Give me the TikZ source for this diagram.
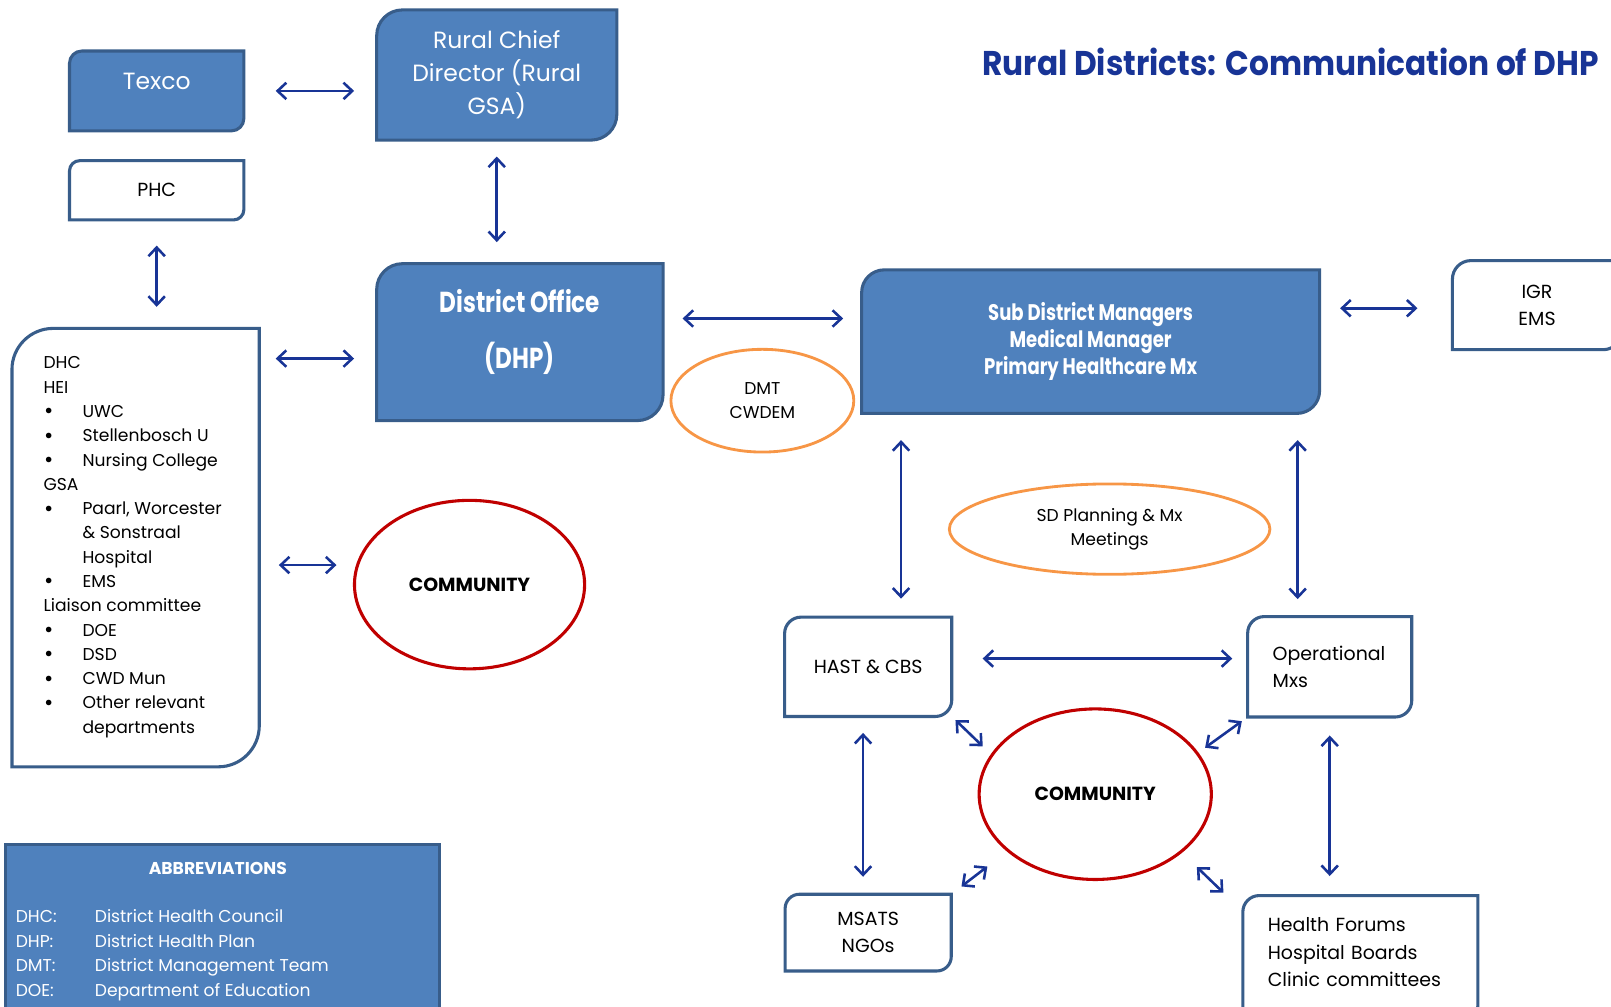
\documentclass[tikz,border=0pt]{standalone}
\usepackage{fontspec}
\setmainfont{Poppins}
\newfontfamily\narrowfont[FakeStretch=0.8]{Poppins}
\newfontfamily\titlefont[FakeStretch=0.91]{Poppins}
\usetikzlibrary{shapes.geometric,arrows.meta,backgrounds,positioning}

\definecolor{boxblue}{HTML}{4F81BD}
\definecolor{boxedge}{HTML}{385D8A}
\definecolor{linkblue}{RGB}{24,52,150}
\definecolor{commred}{HTML}{C00000}
\definecolor{meetorange}{HTML}{F79646}

\newcommand{\hitem}[1]{\makebox[7.6mm][l]{\hspace{0.1mm}\raisebox{-0.15ex}{\fontsize{12.5}{0}\selectfont\textbullet}}#1}
\newcommand{\hmore}[1]{\hspace*{7.6mm}#1}

\begin{document}
\begin{tikzpicture}[x=0.2mm, y=-0.2mm,
  >={Straight Barb[length=1.7mm,width=3.2mm]},
  block/.style={inner sep=0pt, align=center, text=white, font=\fontsize{13}{18.3}\selectfont},
  plain/.style={inner sep=0pt, align=center, font=\fontsize{10.5}{15}\selectfont},
  meet/.style={ellipse, draw=meetorange, line width=0.55mm, inner sep=0pt, align=center, font=\fontsize{9.5}{13.6}\selectfont},
  comm/.style={ellipse, draw=commred, line width=0.6mm, inner sep=0pt, font=\bfseries\fontsize{10.5}{12}\selectfont},
  link/.style={draw=linkblue, line width=0.5mm, <->},
  rim/.style={draw=boxedge, line width=0.6mm}
]
\useasboundingbox (0,0) rectangle (1568,980);

\node[text=linkblue, anchor=west, font=\titlefont\bfseries\fontsize{19}{22}\selectfont] (title) at (950,60) {Rural Districts: Communication of DHP};

\node[block, minimum width=33.8mm, minimum height=15.4mm, text depth=3.7mm] (texco) at (152.5,88.5) {Texco};
\node[plain, minimum width=33.8mm, minimum height=11.4mm, below=5.8mm of texco] (phc) {PHC};
\node[block, minimum width=46.6mm, minimum height=25.2mm] (rural) at (483.5,73) {Rural Chief\\Director (Rural\\GSA)};
\node[block, minimum width=55.6mm, minimum height=30.4mm, text depth=5mm, font=\narrowfont\bfseries\fontsize{16}{31}\selectfont] (district) at (506,333) {District Office\\(DHP)};
\node[minimum width=48mm, minimum height=85.2mm, inner sep=0pt] (hei) at (132,533) {};
\node[anchor=north west, inner sep=0pt, align=left, font=\fontsize{9.5}{13.45}\selectfont] (heitext) at (42,347) {DHC\\HEI\\\hitem{UWC}\\\hitem{Stellenbosch U}\\\hitem{Nursing College}\\GSA\\\hitem{Paarl, Worcester}\\\hmore{\& Sonstraal}\\\hmore{Hospital}\\\hitem{EMS}\\Liaison committee\\\hitem{DOE}\\\hitem{DSD}\\\hitem{CWD Mun}\\\hitem{Other relevant}\\\hmore{departments}};
\node[comm, minimum width=44.8mm, minimum height=32.8mm] (com1) at (457,569) {COMMUNITY};
\node[meet, minimum width=35.6mm, minimum height=20mm] (dmt) at (742,390) {DMT\\CWDEM};
\node[block, minimum width=89mm, minimum height=27.8mm, font=\narrowfont\bfseries\fontsize{12.5}{14.8}\selectfont] (subdist) at (1061.5,332.5) {Sub District Managers\\Medical Manager\\Primary Healthcare Mx};
\node[plain, minimum width=32.8mm, minimum height=17.2mm] (igr) at (1496,297) {IGR\\EMS};
\node[meet, minimum width=62.4mm, minimum height=17.6mm] (sdmeet) at (1080,515) {SD Planning \& Mx\\Meetings};
\node[plain, minimum width=32.4mm, minimum height=19.2mm] (hast) at (845,649) {HAST \& CBS};
\node[plain, minimum width=31.8mm, minimum height=19.4mm, inner xsep=4.8mm, text width=22.2mm, align=left, right=57.6mm of hast] (oper) {Operational\\Mxs};
\node[plain, minimum width=32.2mm, minimum height=14.8mm, below=34.6mm of hast] (msats) {MSATS\\NGOs};
\node[plain, minimum width=45.6mm, minimum height=24.6mm, inner xsep=4.8mm, text width=36mm, align=left, text depth=13.3mm] (forums) at (1324,933.5) {Health Forums\\Hospital Boards\\Clinic committees};
\node[comm, minimum width=45.2mm, minimum height=33.2mm] (com2) at (1066,773) {COMMUNITY};

\node[fill=boxblue, draw=boxedge, line width=0.6mm, minimum width=84.6mm, minimum height=34.6mm, inner sep=0pt] (abbr) at (216.5,908.5) {};
\node[text=white, font=\bfseries\fontsize{9.5}{11}\selectfont] (abbrtitle) at (212,845) {ABBREVIATIONS};
\node[anchor=west, inner sep=0pt, text=white, font=\fontsize{9.5}{13.6}\selectfont] (abbrlist) at (15,929) {\begin{tabular}{@{}p{15.4mm}@{}l@{}}
DHC: & District Health Council\\
DHP: & District Health Plan\\
DMT: & District Management Team\\
DOE: & Department of Education
\end{tabular}};

\begin{scope}[on background layer]
\foreach \b/\r/\f in {texco/2.4mm/boxblue, rural/5mm/boxblue, phc/2mm/white, district/5mm/boxblue, hei/8mm/white, subdist/4.4mm/boxblue, igr/3.6mm/white, hast/3.2mm/white, oper/3.2mm/white, msats/2.8mm/white, forums/3.2mm/white}
  \draw[rim, fill=\f] (\b.south west) -- ([yshift=-\r]\b.north west) arc[start angle=180, end angle=90, radius=\r] -- (\b.north east) -- ([yshift=\r]\b.south east) arc[start angle=0, end angle=-90, radius=\r] -- cycle;
\end{scope}

\draw[link, shorten <=6.2mm, shorten >=4.4mm] (texco.east) -- (texco.east -| rural.west);
\draw[link, shorten <=3.2mm, shorten >=4.2mm] (rural.south) -- (rural.south |- district.north);
\draw[link, shorten <=5mm, shorten >=4.2mm] (phc.south) -- (phc.south |- hei.north);
\draw[link, shorten <=3.2mm, shorten >=4.4mm] (hei.east |- 0,349) -- (district.west |- 0,349);
\draw[link, shorten <=3.8mm, shorten >=3.2mm] (hei.east |- 0,550) -- (com1.west |- 0,550);
\draw[link, shorten <=3.8mm, shorten >=3.6mm] (district.east |- 0,310) -- (subdist.west |- 0,310);
\draw[link, shorten <=4mm, shorten >=6.8mm] (subdist.east |- 0,300) -- (igr.west |- 0,300);
\draw[link, shorten <=5.2mm, shorten >=3.6mm] (subdist.south -| 877,0) -- (hast.north -| 877,0);
\draw[link, shorten <=5.2mm, shorten >=3.4mm] (subdist.south -| 1263,0) -- (oper.north -| 1263,0);
\draw[link, shorten <=6mm, shorten >=3mm] (hast.east |- 0,641) -- (oper.west |- 0,641);
\draw[link, shorten <=3.2mm, shorten >=3.4mm] (hast.south -| 840,0) -- (msats.north -| 840,0);
\draw[link, shorten <=3.6mm, shorten >=3.8mm] (oper.south) -- (oper.south |- forums.north);
\draw[link, shorten <=1mm, shorten >=2.2mm] (hast.south east) -- (com2.159);
\draw[link, shorten <=1.4mm, shorten >=1.6mm] (oper.south west) -- (com2.22);
\draw[link, shorten <=2.5mm, shorten >=4.8mm] (msats.north east) -- (com2.213);
\draw[link, shorten <=0.8mm, shorten >=4mm] ([xshift=-3.2mm]forums.north west) -- (com2.326);
\end{tikzpicture}
\end{document}
